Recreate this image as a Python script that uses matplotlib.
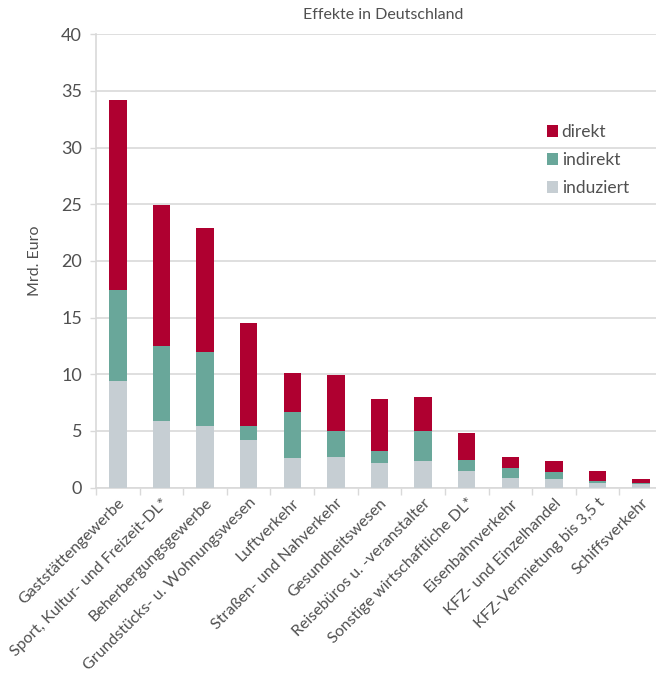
import matplotlib
matplotlib.use("Agg")
import matplotlib.pyplot as plt
import numpy as np

categories = [
    "Gaststättengewerbe",
    "Sport, Kultur- und Freizeit-DL*",
    "Beherbergungsgewerbe",
    "Grundstücks- u. Wohnungswesen",
    "Luftverkehr",
    "Straßen- und Nahverkehr",
    "Gesundheitswesen",
    "Reisebüros u. -veranstalter",
    "Sonstige wirtschaftliche DL*",
    "Eisenbahnverkehr",
    "KFZ- und Einzelhandel",
    "KFZ-Vermietung bis 3,5 t",
    "Schiffsverkehr",
]
induziert = [9.4, 5.85, 5.45, 4.2, 2.6, 2.65, 2.2, 2.3, 1.45, 0.87, 0.72, 0.42, 0.28]
indirekt = [8.0, 6.6, 6.5, 1.25, 4.1, 2.3, 1.05, 2.7, 1.0, 0.85, 0.65, 0.18, 0.14]
direkt = [16.8, 12.5, 10.95, 9.1, 3.45, 5.0, 4.6, 3.0, 2.35, 0.98, 0.95, 0.83, 0.36]
yticks = [0, 5, 10, 15, 20, 25, 30, 35, 40]

c_dir = "#AF0030"
c_ind = "#69A79A"
c_inz = "#C6CED3"
txt = "#505050"
grid = "#d9d9d9"

plt.rcParams["font.family"] = ["Lato", "DejaVu Sans"]

fig = plt.figure(figsize=(6.56, 6.73), dpi=100)
W, H = 656, 673
left, right = 96, 663
y0, y40 = 487.5, 34.3
ax = fig.add_axes([left / W, (H - y0) / H, (right - left) / W, (y0 - y40) / H])

x = np.arange(len(categories))
ind = np.array(induziert)
idr = np.array(indirekt)
dr = np.array(direkt)
bw = 0.4
ax.bar(x, ind, bw, color=c_inz, label="induziert", zorder=3)
ax.bar(x, idr, bw, bottom=ind, color=c_ind, label="indirekt", zorder=3)
ax.bar(x, dr, bw, bottom=ind + idr, color=c_dir, label="direkt", zorder=3)

ax.set_xlim(-0.5, len(categories) - 0.5)
ax.set_ylim(0, 40)
ax.set_yticks(yticks)
ax.set_yticklabels([str(v) for v in yticks], fontsize=13, color=txt)
ax.yaxis.grid(True, color=grid, linewidth=1.2, zorder=0)
ax.set_axisbelow(True)

ax.set_xticks(x)
ax.set_xticklabels(categories, rotation=45, ha="right", rotation_mode="anchor",
                   fontsize=11.5, color=txt)
ax.tick_params(axis="x", length=0, pad=6)
ax.set_xticks(np.arange(-0.5, len(categories), 1), minor=True)
ax.tick_params(axis="x", which="minor", length=5, color=grid, width=1)
ax.tick_params(axis="y", length=4, color=grid, width=1, pad=6)

for s in ["top", "right"]:
    ax.spines[s].set_visible(False)
ax.spines["left"].set_color(grid)
ax.spines["left"].set_linewidth(1.2)
ax.spines["bottom"].set_color(grid)
ax.spines["bottom"].set_linewidth(1.2)

ax.set_ylabel("Mrd. Euro", fontsize=11.5, color=txt, labelpad=14)
fig.text(383 / W, 1 - 15 / H, "Effekte in Deutschland", ha="center", va="center",
         fontsize=11.5, color=txt)

handles, labels = ax.get_legend_handles_labels()
leg = ax.legend(handles[::-1], labels[::-1], loc="upper left",
                bbox_to_anchor=((540 - left) / (right - left), (y0 - 117) / (y0 - y40)),
                frameon=False, fontsize=12.5, handlelength=0.65, handleheight=0.65,
                handletextpad=0.2, labelspacing=0.7, borderaxespad=0)
for t in leg.get_texts():
    t.set_color(txt)

fig.savefig("out.png", dpi=100)
